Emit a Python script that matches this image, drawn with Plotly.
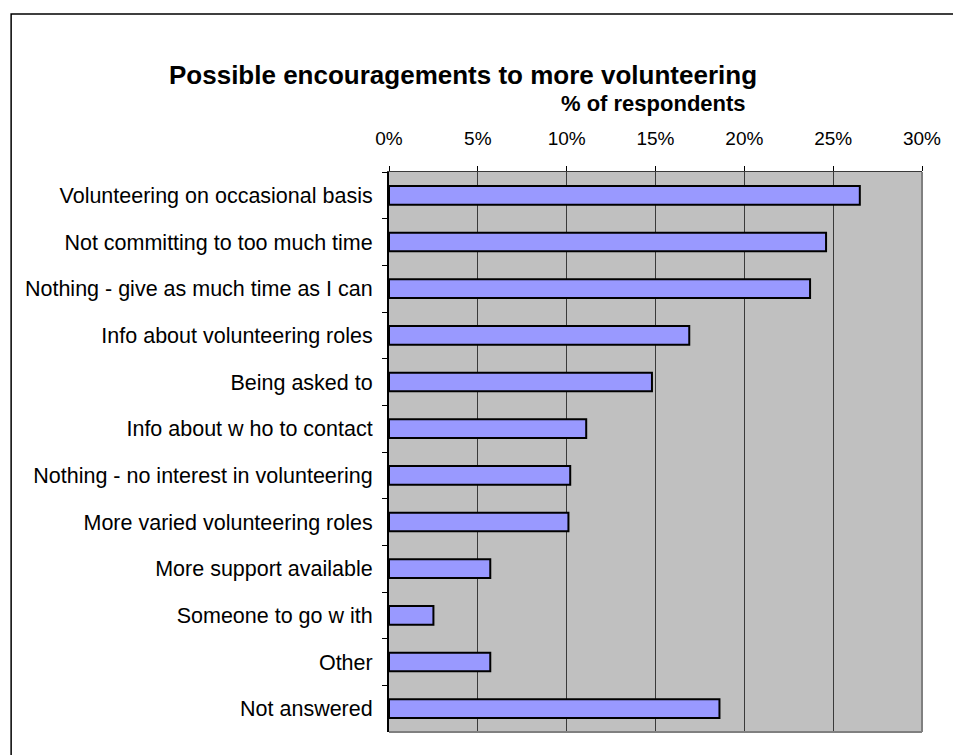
import plotly.graph_objects as go

categories = [
    "Volunteering on occasional basis",
    "Not committing to too much time",
    "Nothing - give as much time as I can",
    "Info about volunteering roles",
    "Being asked to",
    "Info about w ho to contact",
    "Nothing - no interest in volunteering",
    "More varied volunteering roles",
    "More support available",
    "Someone to go w ith",
    "Other",
    "Not answered",
]
values = [26.5, 24.6, 23.7, 16.9, 14.8, 11.1, 10.2, 10.1, 5.7, 2.5, 5.7, 18.6]
tick_vals = [0, 5, 10, 15, 20, 25, 30]
tick_text = ["0%", "5%", "10%", "15%", "20%", "25%", "30%"]

FONT = "Liberation Sans, Arial, sans-serif"

fig = go.Figure(
    go.Bar(
        x=values,
        y=categories,
        orientation="h",
        marker=dict(color="#9999FF", line=dict(color="black", width=2)),
        width=0.4,
        hoverinfo="x+y",
    )
)

W, H = 953, 755
L, R, T, B = 389, 28, 172, 23
pw = W - L - R
ph = H - T - B

def px(xp):
    return (xp - L) / pw

def py(yp):
    return (H - B - yp) / ph

fig.update_layout(
    width=W,
    height=H,
    margin=dict(l=L, r=R, t=T, b=B, pad=0),
    paper_bgcolor="white",
    plot_bgcolor="#C0C0C0",
    showlegend=False,
    font=dict(family=FONT, color="black"),
    bargap=0.6,
)

fig.update_xaxes(
    range=[0, 30],
    side="top",
    tickvals=tick_vals,
    ticktext=tick_text,
    tickfont=dict(size=19, family=FONT, color="black"),
    showgrid=True,
    gridcolor="#3A3A3A",
    gridwidth=1.2,
    ticks="outside",
    ticklen=5,
    tickcolor="black",
    showline=True,
    linecolor="#3A3A3A",
    linewidth=1.2,
    mirror=False,
    zeroline=False,
    ticklabelstandoff=13,
    fixedrange=True,
)

fig.update_yaxes(
    categoryorder="array",
    categoryarray=categories,
    autorange="reversed",
    tickfont=dict(size=21.5, family=FONT, color="black"),
    ticks="outside",
    tickson="boundaries",
    ticklen=5,
    tickcolor="black",
    showline=True,
    linecolor="black",
    linewidth=2,
    showgrid=False,
    ticklabelstandoff=10,
    fixedrange=True,
)

shapes = [
    dict(type="line", xref="paper", yref="paper", x0=1, x1=1, y0=0, y1=1,
         line=dict(color="#808080", width=2)),
    dict(type="line", xref="paper", yref="paper", x0=0, x1=1, y0=0, y1=0,
         line=dict(color="#808080", width=2)),
    dict(type="rect", xref="paper", yref="paper",
         x0=px(9), x1=px(975), y0=py(780), y1=py(14),
         line=dict(color="black", width=1.5), fillcolor="rgba(0,0,0,0)"),
]

annotations = [
    dict(text="<b>Possible encouragements to more volunteering</b>",
         xref="paper", yref="paper", x=px(463), y=py(75),
         xanchor="center", yanchor="middle", showarrow=False,
         font=dict(size=26, family=FONT, color="black")),
    dict(text="<b>% of respondents</b>",
         xref="paper", yref="paper", x=px(655), y=py(103),
         xanchor="center", yanchor="middle", showarrow=False,
         font=dict(size=22, family=FONT, color="black")),
]

fig.update_layout(shapes=shapes, annotations=annotations)

fig.write_html("out.html", config={"displayModeBar": False})

with open("out.html", "r", encoding="utf-8") as f:
    html = f.read()
html = html.replace(
    "<head>",
    "<head><style>html,body{margin:0;padding:0;overflow:hidden;}</style>",
    1,
)
with open("out.html", "w", encoding="utf-8") as f:
    f.write(html)
